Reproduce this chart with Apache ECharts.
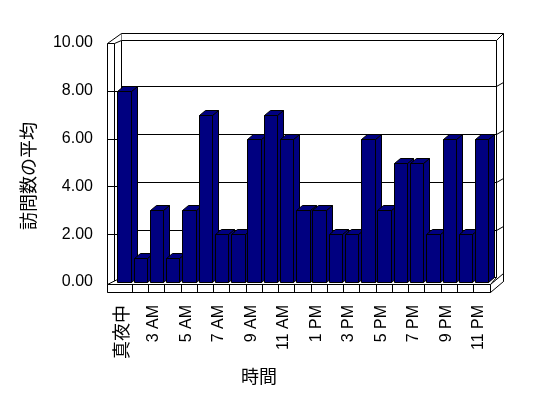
<!DOCTYPE html>
<html><head><meta charset="utf-8">
<script src="https://cdn.jsdelivr.net/npm/echarts@6/dist/echarts.min.js"></script>
<style>html,body{margin:0;padding:0;background:#fff}#c{width:548px;height:398px}</style>
</head><body><div id="c"></div>
<script>
const categories = ['真夜中','1 AM','3 AM','4 AM','5 AM','6 AM','7 AM','8 AM','9 AM','10 AM','11 AM','12 PM','1 PM','2 PM','3 PM','4 PM','5 PM','6 PM','7 PM','8 PM','9 PM','10 PM','11 PM'];
const visits = [8,1,3,1,3,7,2,2,6,7,6,3,3,2,2,6,3,5,5,2,6,2,6];
const yTicks = [0,2,4,6,8,10];
const xTitle = '時間';
const yTitle = '訪問数の平均';

const FONT = "'Liberation Sans','Noto Sans CJK JP',sans-serif";
const NAVY = '#000080';
const chart = echarts.init(document.getElementById('c'), null, {renderer:'canvas'});
const s = v => Math.round(v) + 0.5;

function frameItem(params, api){
  const cs = params.coordSys;
  const L = cs.x, R = cs.x + cs.width, T = cs.y, B = cs.y + cs.height;
  const Lo = s(L - 9.3), Bo = s(B + 9.5);
  const ln = {stroke:'#000', lineWidth:1, fill:null};
  const wf = {stroke:'#000', lineWidth:1, fill:'#fff'};
  const ch = [];
  const bL = s(L+4.7), bT = s(T-10), bR = s(R+12.7), bB = s(B-1.3);
  const iL = s(L+5), iT = s(T-3.5), iR = s(R+6), iB = s(B-4.7);
  const lw = s(L-1.7), fT = s(B+2.3), Rr = s(R), Tf = s(T);
  // back wall outer
  ch.push({type:'rect', shape:{x:bL, y:bT, width:bR-bL, height:bB-bT}, style:wf});
  // back wall inner face
  ch.push({type:'rect', shape:{x:iL, y:iT, width:iR-iL, height:iB-iT}, style:wf});
  ch.push({type:'line', shape:{x1:iR, y1:iT, x2:bR, y2:bT}, style:ln});
  // left wall
  ch.push({type:'polygon', shape:{points:[[Lo,Tf],[bL,bT],[iL,iB],[Lo,Bo]]}, style:{fill:'#fff'}});
  ch.push({type:'line', shape:{x1:Lo, y1:Tf, x2:Lo, y2:Bo}, style:ln});
  ch.push({type:'line', shape:{x1:lw, y1:Tf, x2:lw, y2:s(B)}, style:ln});
  ch.push({type:'line', shape:{x1:iL, y1:iT, x2:iL, y2:iB}, style:ln});
  ch.push({type:'line', shape:{x1:Lo, y1:Tf, x2:lw, y2:Tf}, style:ln});
  ch.push({type:'line', shape:{x1:Lo, y1:Tf, x2:bL, y2:bT}, style:ln});
  ch.push({type:'line', shape:{x1:lw, y1:Tf, x2:iL, y2:iT}, style:ln});
  // gridlines
  yTicks.forEach(v => {
    if (v === 0 || v === 10) return;
    const y = api.coord([0, v])[1];
    const yb = s(y-4.7);
    ch.push({type:'line', shape:{x1:iL, y1:yb, x2:iR, y2:yb}, style:ln});
    ch.push({type:'line', shape:{x1:iR, y1:yb, x2:bR, y2:yb-4}, style:ln});
    ch.push({type:'line', shape:{x1:Lo, y1:s(y), x2:s(L+2), y2:s(y)}, style:ln});
  });
  // floor top
  ch.push({type:'polygon', shape:{points:[[Lo,fT],[Rr,fT],[iR,iB],[iL,iB]]}, style:wf});
  // floor front face
  ch.push({type:'rect', shape:{x:Lo, y:fT, width:Rr-Lo, height:Bo-fT}, style:wf});
  const bw = api.size([1,0])[0];
  for (let k = 1; k < categories.length; k++) {
    const x = s(L + k*bw - 0.5);
    ch.push({type:'line', shape:{x1:x, y1:fT, x2:x, y2:Bo}, style:ln});
  }
  // floor right face
  ch.push({type:'polygon', shape:{points:[[Rr,fT],[Rr,Bo],[bR,Bo-11],[bR,s(B-9)]]}, style:wf});
  return {type:'group', children:ch};
}

function barItem(params, api){
  const i = api.value(0), v = api.value(1);
  const top = api.coord([i, v]);
  const base = api.coord([i, 0]);
  const bw = api.size([1,0])[0];
  const x0 = s(top[0] - bw*0.42), x1 = s(top[0] - bw*0.42 + bw*0.824);
  const yt = s(top[1]), yb = s(base[1]);
  const dx = 6, dy = -5;
  const st = {fill:NAVY, stroke:'#000', lineWidth:1};
  return {type:'group', children:[
    {type:'polygon', shape:{points:[[x1,yt],[x1+dx,yt+dy],[x1+dx,yb+dy],[x1,yb]]}, style:st},
    {type:'polygon', shape:{points:[[x0,yt],[x0+dx,yt+dy],[x1+dx,yt+dy],[x1,yt]]}, style:st},
    {type:'rect', shape:{x:x0, y:yt, width:x1-x0, height:yb-yt}, style:st}
  ]};
}

chart.setOption({
  animation:false,
  backgroundColor:'#fff',
  grid:[
    {left:116, top:43, width:374, height:239},
    {left:113, top:43, width:374, height:239}
  ],
  xAxis:[
    {type:'category', gridIndex:0, data:categories, axisLine:{show:false}, axisTick:{show:false}, axisLabel:{show:false}, splitLine:{show:false}},
    {type:'category', gridIndex:1, data:categories, axisLine:{show:false}, axisTick:{show:false}, splitLine:{show:false},
     axisLabel:{interval:1, rotate:90, margin:23, color:'#000', fontSize:16, fontFamily:FONT,
       formatter: v => /[^\x00-\x7F]/.test(v) ? '{j|'+v+'}' : v,
       rich:{j:{fontSize:18, fontFamily:"'Noto Sans CJK JP',sans-serif", color:'#000'}}}}
  ],
  yAxis:[
    {type:'value', gridIndex:0, min:0, max:10, interval:2, axisLine:{show:false}, axisTick:{show:false}, splitLine:{show:false},
     axisLabel:{margin:23, color:'#000', fontSize:16, fontFamily:FONT, formatter: v => v.toFixed(2)}},
    {type:'value', gridIndex:1, min:0, max:10, interval:2, show:false}
  ],
  graphic:[
    {type:'text', x:259, y:376, style:{text:xTitle, font:"18px 'Noto Sans CJK JP',sans-serif", fill:'#000', align:'center', verticalAlign:'middle'}},
    {type:'text', x:28, y:176, rotation:Math.PI/2, style:{text:yTitle, font:"18px 'Noto Sans CJK JP',sans-serif", fill:'#000', align:'center', verticalAlign:'middle'}}
  ],
  series:[
    {type:'custom', xAxisIndex:0, yAxisIndex:0, z:1, renderItem:frameItem, data:[[0,0]], silent:true},
    {type:'custom', xAxisIndex:0, yAxisIndex:0, z:2, renderItem:barItem, encode:{x:0,y:1},
     data: visits.map((v,i)=>[i,v])}
  ]
});
</script></body></html>
